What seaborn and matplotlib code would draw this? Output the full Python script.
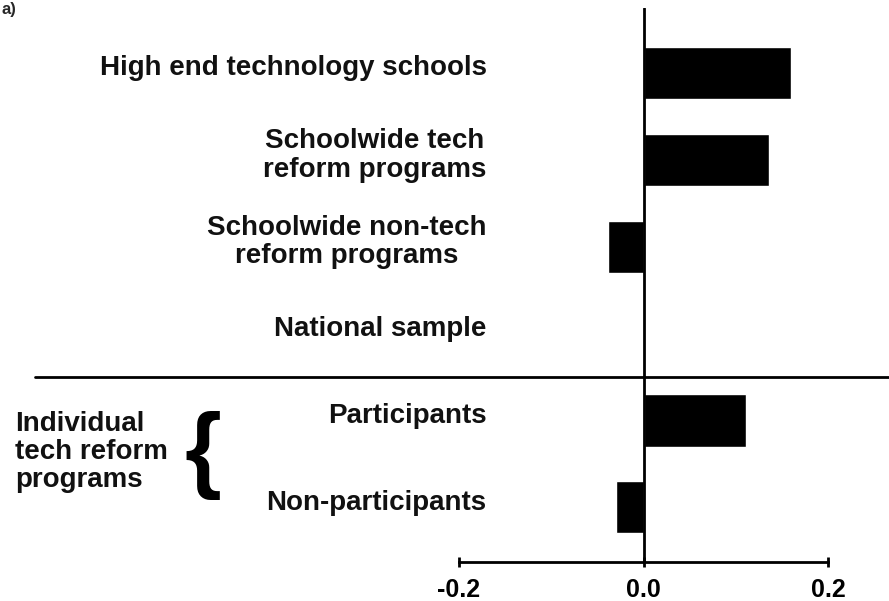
import matplotlib
matplotlib.use('Agg')
import matplotlib.pyplot as plt
from matplotlib.lines import Line2D
import pandas as pd
import seaborn as sns

sns.set_theme(style='white')
plt.rcParams['font.family'] = ['Liberation Sans', 'DejaVu Sans']

# data
groups = ['High end technology schools',
          'Schoolwide tech\nreform programs',
          'Schoolwide non-tech\nreform programs',
          'National sample',
          'Participants',
          'Non-participants']
effect = [0.160, 0.136, -0.039, 0.0, 0.111, -0.030]
x_ticks = [-0.2, 0.0, 0.2]
x_ticklabels = ['-0.2', '0.0', '0.2']
bracket_label = 'Individual\ntech reform\nprograms'

df = pd.DataFrame({'group': groups, 'effect': effect})

fig = plt.figure(figsize=(8.89, 6.01), dpi=100)
ax = fig.add_axes([459 / 889, 1 - 562 / 601, 369 / 889, 554 / 601])

sns.barplot(data=df, x='effect', y='group', orient='h', color='black',
            saturation=1, width=0.6, ax=ax)

ax.set_xlim(-0.2, 0.2)
ax.set_ylim(5.629, -0.746)
ax.axvline(0, color='black', lw=2, zorder=3)

# category labels sit inside the axes, right of the -0.2 tick
ax.set_yticks([])
for i, g in enumerate(groups):
    ax.text(-0.170, i - 0.05, g, ha='right', va='center',
            multialignment='center', fontsize=20, fontweight='bold',
            linespacing=1.12, color='#111111')

for side in ['top', 'right', 'left']:
    ax.spines[side].set_visible(False)
ax.spines['bottom'].set_linewidth(2)
ax.spines['bottom'].set_color('black')
ax.set_xticks(x_ticks)
ax.set_xticklabels(x_ticklabels, fontsize=18, fontweight='bold')
ax.tick_params(axis='x', direction='inout', length=7, width=2, pad=8,
               bottom=True, colors='black')
ax.set_xlabel('')
ax.set_ylabel('')

# separator between school groups and individual programs
ax.add_line(Line2D([35 / 889, 1.0], [1 - 377 / 601, 1 - 377 / 601],
                   transform=fig.transFigure, color='black', lw=2,
                   clip_on=False))

fig.text(15 / 889, 1 - 452 / 601, bracket_label, ha='left', va='center',
         fontsize=20, fontweight='bold', linespacing=1.08, color='#111111')
fig.text(203 / 889, 1 - 455 / 601, '{', ha='center', va='center',
         fontsize=68, fontweight='bold', color='black')

fig.text(2 / 889, 1 - 2 / 601, 'a)', ha='left', va='top', fontsize=12,
         fontweight='bold')

fig.savefig('out.png', dpi=100)
